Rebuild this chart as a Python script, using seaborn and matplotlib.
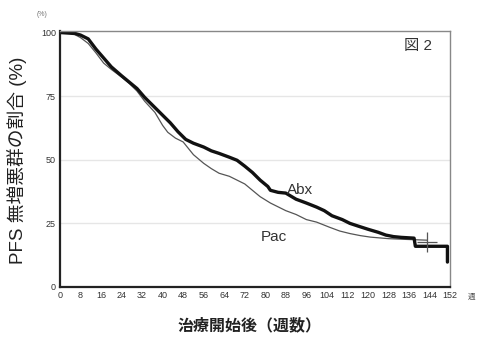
import pandas as pd
import matplotlib
matplotlib.use("Agg")
import matplotlib.pyplot as plt
import seaborn as sns

# values (weeks, % progression-free)
abx_weeks = [0, 6, 8, 11, 14, 17, 20, 24, 27, 30, 33, 37, 40, 43, 46, 49, 52, 56,
             59, 62, 66, 69, 72, 75, 78, 81, 82, 85, 88, 92, 96, 100, 103, 106,
             110, 113, 116, 120, 124, 127, 130, 133, 138, 138.5, 151, 151]
abx_pct = [100, 99.6, 99, 97.5, 93.5, 90, 86.5, 83, 80.5, 78, 74.5, 70.5, 67.5,
           64.5, 61, 58, 56.5, 55, 53.5, 52.5, 51, 49.8, 47.5, 45, 42, 39.5, 38,
           37.2, 36.9, 34.5, 33, 31.4, 30, 28, 26.5, 25, 24, 22.7, 21.5, 20.4,
           19.8, 19.5, 19.2, 16, 16, 9.8]

pac_weeks = [0, 5, 8, 11, 14, 17, 20, 24, 27, 30, 33, 37, 40, 42, 45, 48, 52, 56,
             59, 62, 66, 69, 72, 75, 78, 82, 85, 88, 92, 96, 100, 105, 109, 113,
             117, 121, 128, 135, 143]
pac_pct = [100, 99.6, 98, 95.7, 92, 88, 85.5, 82.5, 80, 77, 73, 68.6, 63.5, 60.8,
           58.5, 57, 52, 48.6, 46.5, 44.7, 43.5, 42, 40.5, 38, 35.5, 33, 31.5, 30,
           28.5, 26.5, 25.5, 23.5, 22, 21, 20.2, 19.6, 19, 18.7, 18.4]

pac_censor_week = [143]
pac_censor_pct = [17.5]

x_ticks = list(range(0, 153, 8))
y_ticks = [0, 25, 50, 75, 100]

LATIN = ["Liberation Sans", "Noto Sans CJK JP"]


def main():
    sns.set_theme(style="white")
    plt.rcParams["font.family"] = ["Noto Sans CJK JP", "DejaVu Sans"]

    fig = plt.figure(figsize=(4.79, 3.37), dpi=100)
    ax = fig.add_axes([60 / 479, 1 - 287 / 337, 390 / 479, 256 / 337])

    abx = pd.DataFrame({"week": abx_weeks, "pct": abx_pct})
    pac = pd.DataFrame({"week": pac_weeks, "pct": pac_pct})

    for y in [25, 50, 75]:
        ax.axhline(y, color="#e6e6e6", lw=1.0, zorder=0)

    sns.lineplot(data=pac, x="week", y="pct", ax=ax, color="#555555", lw=0.9,
                 estimator=None, sort=False)
    sns.lineplot(data=abx, x="week", y="pct", ax=ax, color="#111111", lw=2.4,
                 estimator=None, sort=False)
    ax.plot(pac_censor_week, pac_censor_pct, marker="+", ms=14, mew=0.9,
            color="#555555", ls="none")

    ax.set_xlim(0, 152)
    ax.set_ylim(0, 100.6)
    ax.set_xticks(x_ticks)
    ax.set_yticks(y_ticks)
    ax.tick_params(axis="both", labelsize=6.5, colors="#333333", length=2,
                   direction="in", pad=3)
    ax.tick_params(axis="y", left=False)
    for lab in ax.get_xticklabels() + ax.get_yticklabels():
        lab.set_family(LATIN)

    for side in ["left", "bottom"]:
        ax.spines[side].set_color("#222222")
        ax.spines[side].set_linewidth(1.6)
    for side in ["top", "right"]:
        ax.spines[side].set_color("#888888")
        ax.spines[side].set_linewidth(1.0)

    ax.set_xlabel("")
    ax.set_ylabel("")
    fig.text(250 / 479, 1 - 325 / 337, "治療開始後（週数）", ha="center",
             va="center", fontsize=11.5, color="#222222", fontweight="bold")
    fig.text(17 / 479, 1 - 160 / 337, "PFS 無増悪群の割合 (%)", rotation=90,
             ha="center", va="center", fontsize=13.5, color="#222222",
             family=LATIN)
    fig.text(42 / 479, 1 - 15 / 337, "(%)", ha="center", va="center",
             fontsize=5, color="#777777", family=LATIN)
    fig.text(472 / 479, 1 - 297 / 337, "週", ha="center", va="center",
             fontsize=5.5, color="#555555")

    ax.text(0.918, 0.94, "図 2", transform=ax.transAxes, ha="center",
            va="center", fontsize=11, color="#333333", family=LATIN)
    ax.text(93.5, 38, "Abx", ha="center", va="center", fontsize=11,
            color="#333333", family=LATIN)
    ax.text(83.5, 19.6, "Pac", ha="center", va="center", fontsize=11,
            color="#333333", family=LATIN)

    fig.savefig("out.png", dpi=100)


if __name__ == "__main__":
    main()
